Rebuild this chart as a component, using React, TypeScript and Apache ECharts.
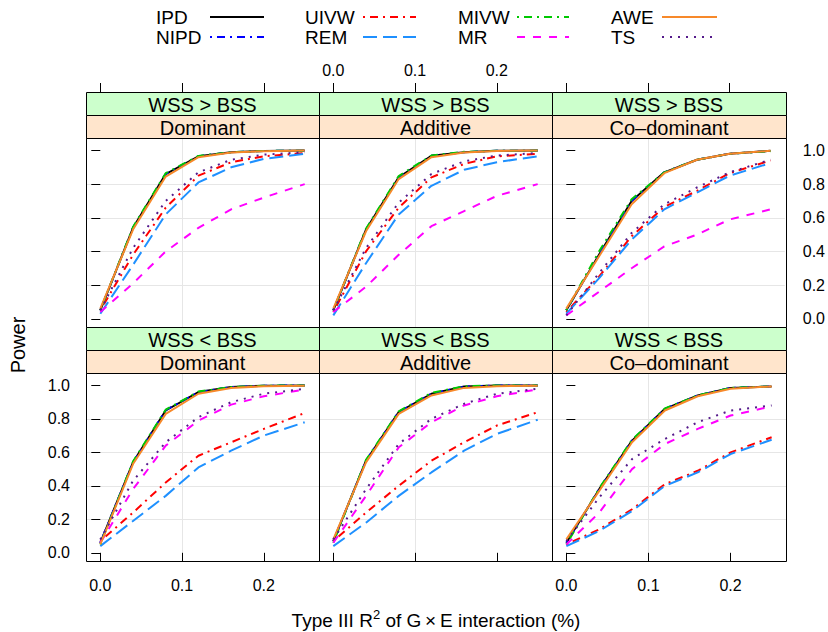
import React, { useEffect, useRef } from "react";
import * as echarts from "echarts";

// ---------------- data ----------------
const xValues = [0, 0.04, 0.08, 0.12, 0.16, 0.2, 0.25];
const methods = ["IPD", "NIPD", "UIVW", "REM", "MIVW", "MR", "AWE", "TS"];
const legendColumns = [["IPD", "NIPD"], ["UIVW", "REM"], ["MIVW", "MR"], ["AWE", "TS"]];
const rowLabels = ["WSS > BSS", "WSS < BSS"];
const colLabels = ["Dominant", "Additive", "Co\u2013dominant"];
const xTicks = [0, 0.1, 0.2];
const yTicks = [0, 0.2, 0.4, 0.6, 0.8, 1.0];

const highDominant: Record<string, number[]> = {
  IPD: [0.05, 0.54, 0.86, 0.965, 0.99, 0.997, 0.999],
  NIPD: [0.05, 0.54, 0.86, 0.966, 0.99, 0.997, 0.999],
  UIVW: [0.05, 0.38, 0.66, 0.85, 0.93, 0.965, 0.985],
  REM: [0.03, 0.32, 0.62, 0.81, 0.9, 0.95, 0.98],
  MIVW: [0.05, 0.545, 0.865, 0.967, 0.99, 0.997, 0.999],
  MR: [0.04, 0.21, 0.4, 0.54, 0.65, 0.72, 0.8],
  AWE: [0.06, 0.53, 0.845, 0.96, 0.988, 0.996, 0.999],
  TS: [0.05, 0.42, 0.7, 0.87, 0.945, 0.975, 0.99],
};
const highAdditive: Record<string, number[]> = {
  IPD: [0.05, 0.53, 0.84, 0.968, 0.99, 0.998, 0.999],
  NIPD: [0.05, 0.53, 0.842, 0.968, 0.99, 0.998, 0.999],
  UIVW: [0.04, 0.4, 0.66, 0.84, 0.92, 0.965, 0.98],
  REM: [0.02, 0.33, 0.62, 0.79, 0.885, 0.93, 0.965],
  MIVW: [0.05, 0.535, 0.848, 0.97, 0.992, 0.998, 0.999],
  MR: [0.04, 0.19, 0.38, 0.55, 0.64, 0.73, 0.8],
  AWE: [0.06, 0.52, 0.83, 0.96, 0.988, 0.997, 0.999],
  TS: [0.05, 0.42, 0.69, 0.86, 0.935, 0.97, 0.985],
};
const highCodominant: Record<string, number[]> = {
  IPD: [0.05, 0.38, 0.7, 0.87, 0.945, 0.98, 0.998],
  NIPD: [0.05, 0.385, 0.7, 0.87, 0.945, 0.98, 0.997],
  UIVW: [0.04, 0.25, 0.49, 0.665, 0.76, 0.865, 0.94],
  REM: [0.03, 0.24, 0.47, 0.65, 0.75, 0.85, 0.925],
  MIVW: [0.05, 0.4, 0.71, 0.87, 0.945, 0.98, 0.996],
  MR: [0.02, 0.16, 0.3, 0.43, 0.5, 0.59, 0.65],
  AWE: [0.06, 0.37, 0.68, 0.865, 0.945, 0.98, 0.998],
  TS: [0.02, 0.27, 0.51, 0.68, 0.78, 0.87, 0.945],
};
const lowDominant: Record<string, number[]> = {
  IPD: [0.06, 0.54, 0.85, 0.96, 0.99, 0.998, 1.0],
  NIPD: [0.06, 0.54, 0.852, 0.96, 0.99, 0.998, 1.0],
  UIVW: [0.07, 0.24, 0.42, 0.58, 0.66, 0.74, 0.835],
  REM: [0.04, 0.19, 0.34, 0.51, 0.61, 0.7, 0.78],
  MIVW: [0.05, 0.545, 0.855, 0.963, 0.99, 0.998, 1.0],
  MR: [0.06, 0.38, 0.64, 0.79, 0.885, 0.935, 0.975],
  AWE: [0.05, 0.53, 0.83, 0.95, 0.985, 0.995, 0.998],
  TS: [0.08, 0.43, 0.66, 0.81, 0.9, 0.95, 0.98],
};
const lowAdditive: Record<string, number[]> = {
  IPD: [0.07, 0.55, 0.84, 0.95, 0.993, 1.0, 1.0],
  NIPD: [0.07, 0.55, 0.842, 0.95, 0.993, 1.0, 1.0],
  UIVW: [0.07, 0.24, 0.4, 0.55, 0.66, 0.76, 0.84],
  REM: [0.04, 0.18, 0.34, 0.48, 0.61, 0.71, 0.795],
  MIVW: [0.06, 0.555, 0.845, 0.955, 0.995, 1.0, 1.0],
  MR: [0.06, 0.34, 0.63, 0.78, 0.88, 0.935, 0.976],
  AWE: [0.08, 0.54, 0.83, 0.94, 0.985, 0.995, 0.998],
  TS: [0.08, 0.38, 0.65, 0.8, 0.89, 0.95, 0.98],
};
const lowCodominant: Record<string, number[]> = {
  IPD: [0.06, 0.38, 0.67, 0.86, 0.94, 0.985, 0.994],
  NIPD: [0.06, 0.38, 0.672, 0.86, 0.94, 0.985, 0.994],
  UIVW: [0.05, 0.14, 0.26, 0.41, 0.49, 0.6, 0.69],
  REM: [0.04, 0.13, 0.25, 0.4, 0.48, 0.59, 0.675],
  MIVW: [0.05, 0.385, 0.675, 0.862, 0.94, 0.985, 0.994],
  MR: [0.05, 0.24, 0.5, 0.65, 0.74, 0.82, 0.875],
  AWE: [0.08, 0.37, 0.66, 0.85, 0.935, 0.98, 0.994],
  TS: [0.07, 0.33, 0.56, 0.68, 0.78, 0.85, 0.88],
};
const panels = [highDominant, highAdditive, highCodominant, lowDominant, lowAdditive, lowCodominant];

const colors: Record<string, string> = {
  IPD: "#000000",
  NIPD: "#0000FF",
  UIVW: "#FF0000",
  REM: "#1E90FF",
  MIVW: "#00C800",
  MR: "#FF00FF",
  AWE: "#F7892A",
  TS: "#551A8B",
};
const dashes: Record<string, any> = {
  IPD: "solid",
  NIPD: [2, 5, 8, 5],
  UIVW: [2, 5, 8, 5],
  REM: [14, 6],
  MIVW: [2, 5, 8, 5],
  MR: [8, 8],
  AWE: "solid",
  TS: [2, 6],
};

// ---------------- layout ----------------
const FONT = '"Liberation Sans", Arial, Helvetica, sans-serif';
const colEdges = [86, 319, 552, 786];
const plotTops = [138, 373];
const plotBottoms = [327, 561];
const STRIP = 23;
const X_MIN = -0.0175;
const X_MAX = 0.2675;
const Y_MIN = -0.049;
const Y_MAX = 1.074;
const TICK_FONT = 16;

export default function App() {
  const ref = useRef<HTMLDivElement>(null);

  useEffect(() => {
    if (!ref.current) return;
    const chart = echarts.init(ref.current, undefined, { renderer: "svg" });

    const grids: any[] = [];
    const xAxes: any[] = [];
    const yAxes: any[] = [];
    const series: any[] = [];
    const graphics: any[] = [];

    const fmt = (v: number) => v.toFixed(1);

    panels.forEach((panel, i) => {
      const r = Math.floor(i / 3);
      const c = i % 3;
      const left = colEdges[c];
      const width = colEdges[c + 1] - colEdges[c];
      const top = plotTops[r];
      const height = plotBottoms[r] - plotTops[r];
      grids.push({ left, top, width, height, show: false });

      xAxes.push({
        gridIndex: i,
        type: "value",
        position: "bottom",
        min: X_MIN,
        max: X_MAX,
        splitNumber: 3,
        axisLine: { show: false },
        axisTick: {
          show: r === 1,
          inside: false,
          length: 9,
          customValues: xTicks,
          lineStyle: { color: "#000", width: 1 },
        },
        axisLabel: {
          show: r === 1 && c !== 1,
          customValues: xTicks,
          formatter: fmt,
          margin: 16,
          color: "#000",
          fontSize: TICK_FONT,
          fontFamily: FONT,
        },
        splitLine: {
          show: true,
          showMinLine: false,
          showMaxLine: false,
          lineStyle: { color: "#E6E6E6", width: 1 },
        },
      });

      yAxes.push({
        gridIndex: i,
        type: "value",
        position: c === 2 ? "right" : "left",
        min: Y_MIN,
        max: Y_MAX,
        splitNumber: 5,
        axisLine: { show: false },
        axisTick: {
          show: c !== 1,
          inside: false,
          length: 9,
          customValues: yTicks,
          lineStyle: { color: "#000", width: 1 },
        },
        axisLabel: {
          show: (c === 0 && r === 1) || (c === 2 && r === 0),
          customValues: yTicks,
          formatter: fmt,
          margin: c === 2 ? 18 : 16,
          color: "#000",
          fontSize: TICK_FONT,
          fontFamily: FONT,
        },
        splitLine: {
          show: true,
          showMinLine: false,
          showMaxLine: false,
          lineStyle: { color: "#E6E6E6", width: 1 },
        },
      });

      methods.forEach((m) => {
        series.push({
          type: "line",
          name: m,
          xAxisIndex: i,
          yAxisIndex: i,
          data: xValues.map((x, k) => [x, panel[m][k]]),
          symbol: "none",
          showSymbol: false,
          silent: true,
          lineStyle: { color: colors[m], width: 2, type: dashes[m] },
        });
      });

      // strips
      const stripTop = top - 2 * STRIP;
      graphics.push({
        type: "rect",
        z: 10,
        shape: { x: left + 0.5, y: stripTop + 0.5, width, height: STRIP },
        style: { fill: "#CCFFCC", stroke: "#000", lineWidth: 1 },
      });
      graphics.push({
        type: "rect",
        z: 10,
        shape: { x: left + 0.5, y: stripTop + STRIP + 0.5, width, height: STRIP },
        style: { fill: "#FFE5CC", stroke: "#000", lineWidth: 1 },
      });
      graphics.push({
        type: "text",
        z: 11,
        x: left + width / 2,
        y: stripTop + STRIP / 2 + 1,
        style: {
          text: rowLabels[r],
          fill: "#000",
          font: `20px ${FONT}`,
          textAlign: "center",
          textVerticalAlign: "middle",
        },
      });
      graphics.push({
        type: "text",
        z: 11,
        x: left + width / 2,
        y: stripTop + STRIP * 1.5 + 1,
        style: {
          text: colLabels[c],
          fill: "#000",
          font: `20px ${FONT}`,
          textAlign: "center",
          textVerticalAlign: "middle",
        },
      });
      // panel border
      graphics.push({
        type: "rect",
        z: 10,
        shape: { x: left + 0.5, y: top + 0.5, width, height },
        style: { fill: "none", stroke: "#000", lineWidth: 1 },
      });
    });

    // top axes for the top row
    [0, 1, 2].forEach((c) => {
      xAxes.push({
        gridIndex: c,
        type: "value",
        position: "top",
        offset: 2 * STRIP,
        min: X_MIN,
        max: X_MAX,
        splitNumber: 3,
        axisLine: { show: false },
        axisTick: {
          show: true,
          inside: false,
          length: 9,
          customValues: xTicks,
          lineStyle: { color: "#000", width: 1 },
        },
        axisLabel: {
          show: c === 1,
          customValues: xTicks,
          formatter: fmt,
          margin: 14,
          color: "#000",
          fontSize: TICK_FONT,
          fontFamily: FONT,
        },
        splitLine: { show: false },
      });
    });

    // legend
    const legendTextX = [156, 305, 458, 611];
    const legendLineX = [
      [210, 264],
      [363, 416],
      [517, 569],
      [662, 717],
    ];
    const legendRowY = [17, 37];
    legendColumns.forEach((col, k) => {
      col.forEach((m, j) => {
        graphics.push({
          type: "text",
          x: legendTextX[k],
          y: legendRowY[j],
          style: {
            text: m,
            fill: "#000",
            font: `19px ${FONT}`,
            textAlign: "left",
            textVerticalAlign: "middle",
          },
        });
        const d = dashes[m];
        graphics.push({
          type: "line",
          shape: { x1: legendLineX[k][0], y1: legendRowY[j], x2: legendLineX[k][1], y2: legendRowY[j] },
          style: {
            stroke: colors[m],
            lineWidth: 2,
            lineDash: Array.isArray(d) ? d : null,
          },
        });
      });
    });

    // axis titles
    graphics.push({
      type: "text",
      x: 18,
      y: 345,
      rotation: Math.PI / 2,
      style: {
        text: "Power",
        fill: "#000",
        font: `20px ${FONT}`,
        textAlign: "center",
        textVerticalAlign: "middle",
      },
    });
    graphics.push({
      type: "text",
      x: 436,
      y: 620,
      style: {
        text: "{a|Type III R}{b|2}{a| of G\u2009\u00D7\u2009E interaction (%)}",
        fill: "#000",
        textAlign: "center",
        textVerticalAlign: "middle",
        rich: {
          a: { fontSize: 19, fontFamily: FONT, lineHeight: 24, fill: "#000" },
          b: { fontSize: 13, fontFamily: FONT, lineHeight: 13, verticalAlign: "top", fill: "#000" },
        },
      },
    });

    chart.setOption({
      animation: false,
      backgroundColor: "#fff",
      grid: grids,
      xAxis: xAxes,
      yAxis: yAxes,
      series,
      graphic: { elements: graphics },
    });

    return () => chart.dispose();
  }, []);

  return (
    <div
      ref={ref}
      style={{ position: "absolute", left: 0, top: 0, width: 828, height: 632 }}
    />
  );
}
